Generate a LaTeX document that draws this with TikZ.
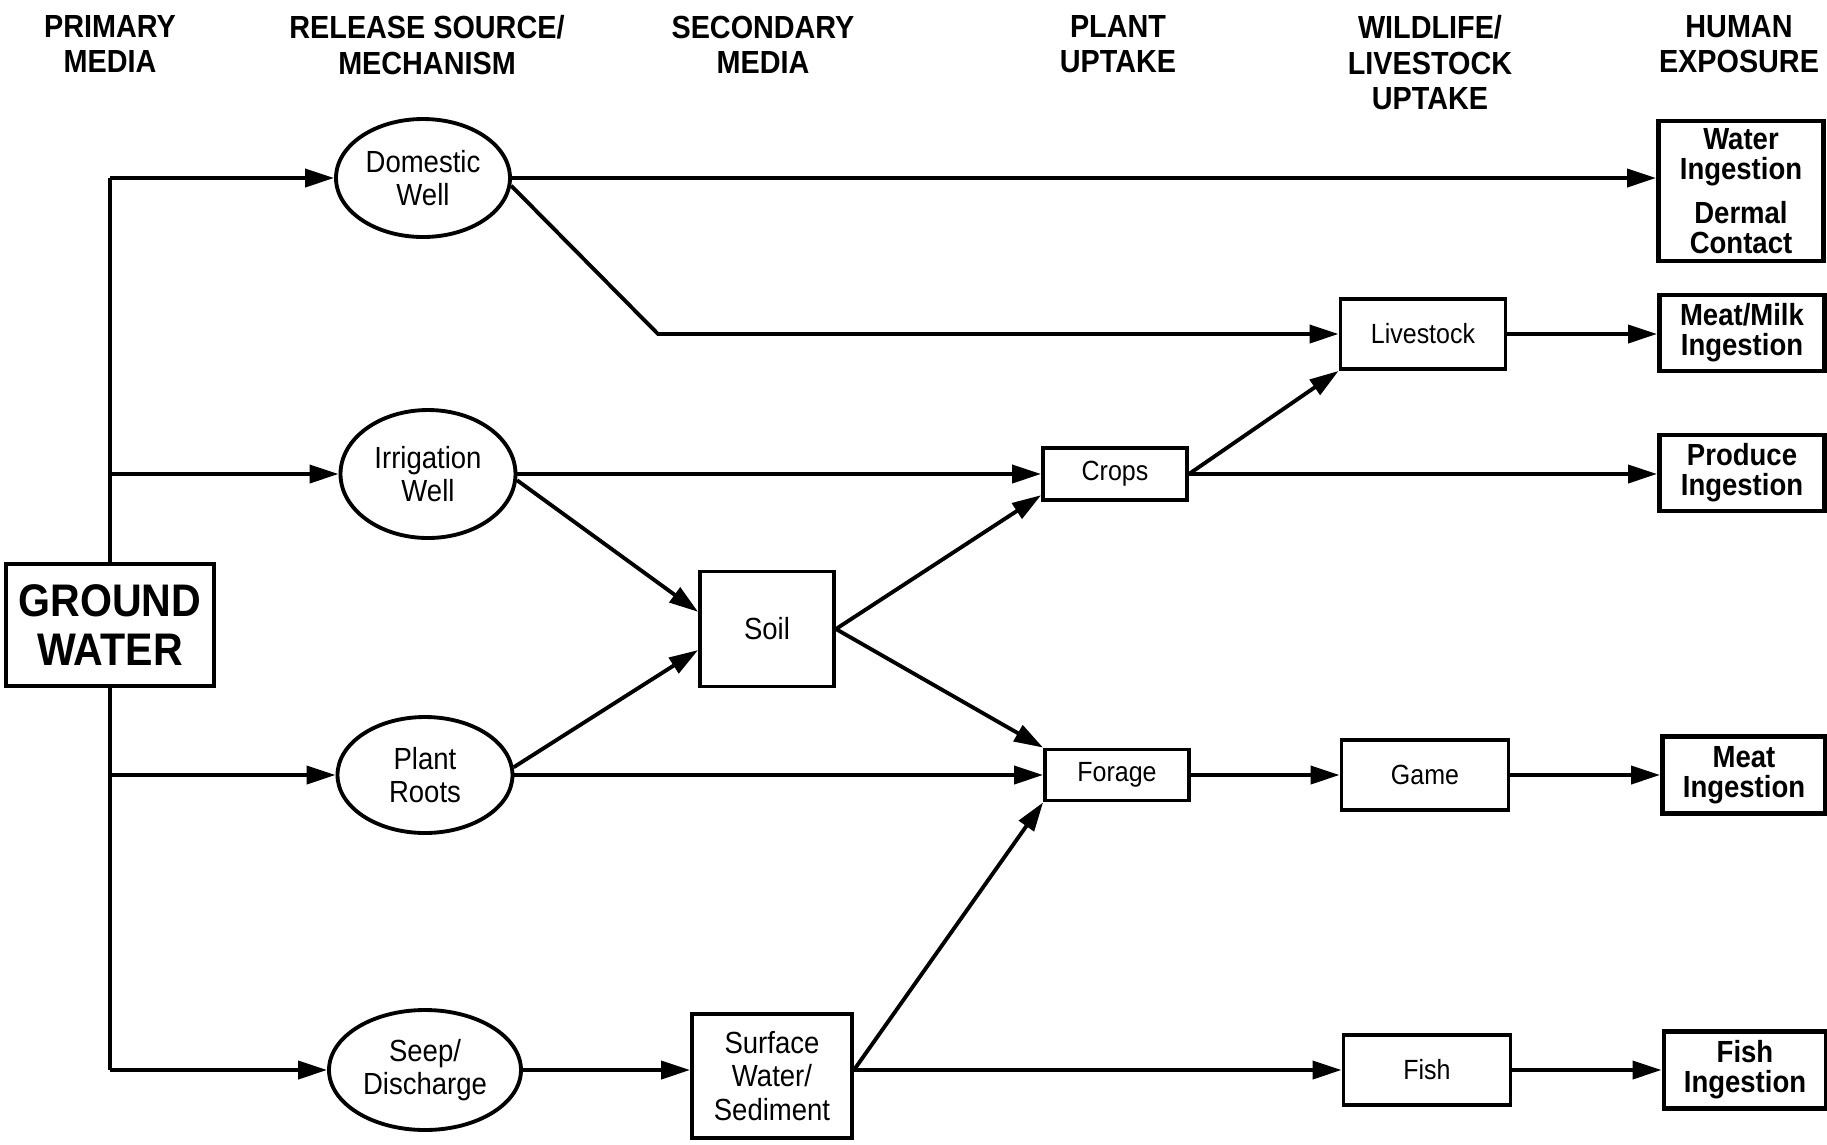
\documentclass[tikz,border=0pt]{standalone}
\usepackage{fontspec}
\setmainfont{Liberation Sans}[FakeStretch=0.9]
\usetikzlibrary{arrows.meta,shapes.geometric}
\begin{document}
\begin{tikzpicture}[x=0.1mm,y=-0.1mm,
  conn/.style={line width=1.1pt},
  arr/.style={conn,-{Triangle[length=2.9mm,width=1.8mm]}},
  hdr/.style={font=\bfseries\fontsize{9.1}{10}\selectfont,align=center,anchor=north,inner sep=0pt},
  oval/.style={draw,ellipse,line width=1.1pt,inner sep=0pt,align=center,font=\fontsize{8.7}{9.5}\selectfont},
  mbox/.style={draw,rectangle,line width=1.1pt,inner sep=0pt,align=center,font=\fontsize{8.7}{9.5}\selectfont},
  sbox/.style={mbox,font=\fontsize{7.9}{9.5}\selectfont},
  hbox/.style={draw,rectangle,line width=1.4pt,inner sep=0pt,align=center,font=\bfseries\fontsize{8.7}{8.6}\selectfont}
]
\useasboundingbox (0,0) rectangle (1827,1144);

% column headers
\node[hdr] (h1) at (110,15) {PRIMARY\\MEDIA};
\node[hdr] (h2) at (427,15) {RELEASE SOURCE/\\MECHANISM};
\node[hdr] (h3) at (763,15) {SECONDARY\\MEDIA};
\node[hdr] (h4) at (1118,15) {PLANT\\UPTAKE};
\node[hdr] (h5) at (1430,15) {WILDLIFE/\\LIVESTOCK\\UPTAKE};
\node[hdr] (h6) at (1739,15) {HUMAN\\EXPOSURE};

% primary medium
\node[draw,line width=1.2pt,minimum width=20.8mm,minimum height=12.2mm,inner sep=0pt,align=center,
      font=\bfseries\fontsize{13}{14}\selectfont] (GW) at (110,625) {GROUND\\WATER};

% release mechanisms
\node[oval,minimum width=17.4mm,minimum height=11.8mm] (DW) at (423,178) {Domestic\\Well};
\node[oval,minimum width=17.5mm,minimum height=12.8mm] (IW) at (428,474) {Irrigation\\Well};
\node[oval,minimum width=17.5mm,minimum height=11.6mm] (PR) at (425,775) {Plant\\Roots};
\node[oval,minimum width=19.2mm,minimum height=12.0mm] (SD) at (425,1070) {Seep/\\Discharge};

% secondary media
\node[mbox,minimum width=13.4mm,minimum height=11.5mm] (Soil) at (767,629) {Soil};
\node[mbox,minimum width=16.0mm,minimum height=12.4mm] (SW) at (772,1076) {Surface\\Water/\\Sediment};

% plant uptake
\node[sbox,minimum width=14.4mm,minimum height=5.2mm] (Crops) at (1115,474) {Crops};
\node[sbox,minimum width=14.4mm,minimum height=5.1mm] (Forage) at (1117,775) {Forage};

% wildlife / livestock
\node[sbox,minimum width=16.5mm,minimum height=7.0mm] (LS) at (1423,334) {Livestock};
\node[sbox,minimum width=16.7mm,minimum height=7.0mm] (Game) at (1425,775) {Game};
\node[sbox,minimum width=16.7mm,minimum height=7.0mm] (Fish) at (1427,1070) {Fish};

% human exposure
\node[hbox,minimum width=16.5mm,minimum height=14.0mm] (WI) at (1741,191) {Water\\Ingestion\\[3.9pt]Dermal\\Contact};
\node[hbox,minimum width=16.5mm,minimum height=7.6mm] (MM) at (1742,333) {Meat/Milk\\Ingestion};
\node[hbox,minimum width=16.5mm,minimum height=7.6mm] (PI) at (1742,473) {Produce\\Ingestion};
\node[hbox,minimum width=16.3mm,minimum height=7.7mm] (MI) at (1744,775) {Meat\\Ingestion};
\node[hbox,minimum width=16.2mm,minimum height=7.7mm] (FI) at (1745,1070) {Fish\\Ingestion};

\coordinate (elbow) at (658,334);

% trunk
\draw[conn] (GW.north) -- (GW.north |- DW.west);
\draw[conn] (GW.south) -- (GW.south |- SD.west);
\draw[arr] (GW.north |- DW.west) -- (DW.west);
\draw[arr] (GW.north |- IW.west) -- (IW.west);
\draw[arr] (GW.south |- PR.west) -- (PR.west);
\draw[arr] (GW.south |- SD.west) -- (SD.west);

% pathways
\draw[arr] (DW.east) -- (DW.east -| WI.west);
\draw[arr] (DW.-5) -- (elbow) -- (LS.west);
\draw[arr] (IW.east) -- (Crops.west);
\draw[arr] (IW.-4) -- (Soil.166);
\draw[arr] (PR.5) -- (Soil.197);
\draw[arr] (PR.east) -- (Forage.west);
\draw[arr] (Soil.east) -- (Crops.196);
\draw[arr] (Soil.east) -- (Forage.north west);
\draw[arr] (Crops.east) -- (LS.south west);
\draw[arr] (Crops.east) -- (Crops.east -| PI.west);
\draw[arr] (LS.east) -- (LS.east -| MM.west);
\draw[arr] (Forage.east) -- (Game.west);
\draw[arr] (Game.east) -- (MI.west);
\draw[arr] (SD.east) -- (SD.east -| SW.west);
\draw[arr] (SD.east -| SW.east) -- (Fish.west);
\draw[arr] (SD.east -| SW.east) -- (Forage.south west);
\draw[arr] (Fish.east) -- (FI.west);
\end{tikzpicture}
\end{document}
